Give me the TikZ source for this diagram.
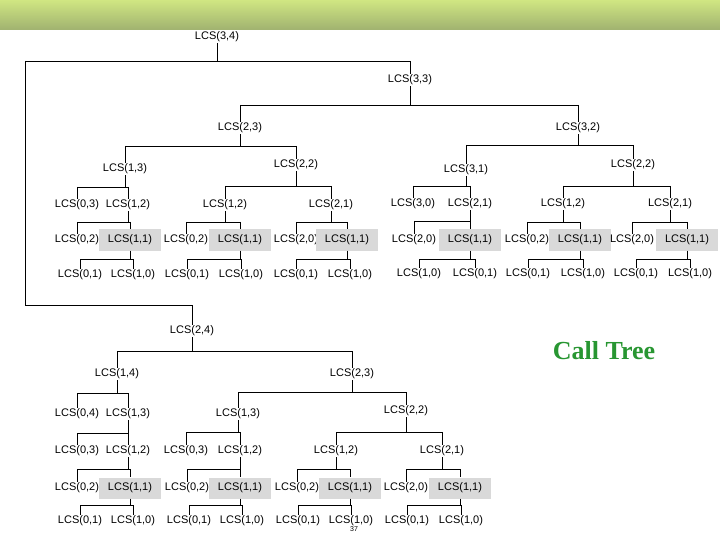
\documentclass[tikz,border=0pt]{standalone}
\usepackage{fontspec}
\setmainfont{Liberation Sans}
\begin{document}
\begin{tikzpicture}[x=1pt,y=-1pt,
  n/.style={inner sep=1pt,font=\fontsize{11}{12}\selectfont},
  h/.style={n,fill=black!15,minimum width=62pt,minimum height=21pt,inner sep=0pt},
  ln/.style={line width=0.9pt,black}]
\useasboundingbox (0,0) rectangle (720,540);
\shade[top color={rgb,255:red,208;green,230;blue,130},bottom color={rgb,255:red,160;green,178;blue,112}] (0,0) rectangle (720,30);
\newcommand\br[4]{\draw[ln] (#1.south) -- (#1.south |- 0,#4) (#2.north |- 0,#4) -- (#3.north |- 0,#4) (#2.north |- 0,#4) -- (#2.north) (#3.north |- 0,#4) -- (#3.north);}
\newcommand\lcs[4][n]{\node[#1] (#2) at (#3) {LCS(#4)};}
% top tree
\lcs{a}{217,37}{3,4}
\lcs{b}{410,80}{3,3}
\lcs{c}{240,128}{2,3}
\lcs{d}{578,128}{3,2}
\lcs{c1}{125,169}{1,3}
\lcs{c2}{296,165}{2,2}
\lcs{c11}{77,205}{0,3}
\lcs{c12}{128,205}{1,2}
\lcs{c121}{77,240}{0,2}
\lcs[h]{c122}{130,240}{1,1}
\lcs{c1221}{80,275}{0,1}
\lcs{c1222}{133,275}{1,0}
\lcs{c21}{225,205}{1,2}
\lcs{c22}{331,205}{2,1}
\lcs{c211}{186,240}{0,2}
\lcs[h]{c212}{240,240}{1,1}
\lcs{c2121}{187,275}{0,1}
\lcs{c2122}{241,275}{1,0}
\lcs{c221}{296,240}{2,0}
\lcs[h]{c222}{347,240}{1,1}
\lcs{c2221}{296,275}{0,1}
\lcs{c2222}{350,275}{1,0}
\lcs{d1}{466,170}{3,1}
\lcs{d2}{633,165}{2,2}
\lcs{d11}{413,204}{3,0}
\lcs{d12}{470,204}{2,1}
\lcs{d121}{414,240}{2,0}
\lcs[h]{d122}{470,240}{1,1}
\lcs{d1221}{419,274}{1,0}
\lcs{d1222}{475,274}{0,1}
\lcs{d21}{563,204}{1,2}
\lcs{d22}{670,204}{2,1}
\lcs{d211}{527,240}{0,2}
\lcs[h]{d212}{580,240}{1,1}
\lcs{d2121}{528,274}{0,1}
\lcs{d2122}{583,274}{1,0}
\lcs{d221}{632,240}{2,0}
\lcs[h]{d222}{687,240}{1,1}
\lcs{d2221}{636,274}{0,1}
\lcs{d2222}{690,274}{1,0}
% bottom tree
\lcs{e}{192,331}{2,4}
\lcs{e1}{117,374}{1,4}
\lcs{e2}{352,374}{2,3}
\lcs{e11}{77,414}{0,4}
\lcs{e12}{128,414}{1,3}
\lcs{e121}{77,451}{0,3}
\lcs{e122}{128,451}{1,2}
\lcs{e1221}{77,488}{0,2}
\lcs[h]{e1222}{130,488}{1,1}
\lcs{e12221}{80,521}{0,1}
\lcs{e12222}{133,521}{1,0}
\lcs{e21}{238,414}{1,3}
\lcs{e22}{406,411}{2,2}
\lcs{e211}{186,451}{0,3}
\lcs{e212}{240,451}{1,2}
\lcs{e2121}{187,488}{0,2}
\lcs[h]{e2122}{240,488}{1,1}
\lcs{e21221}{189,521}{0,1}
\lcs{e21222}{242,521}{1,0}
\lcs{e221}{336,451}{1,2}
\lcs{e222}{442,451}{2,1}
\lcs{e2211}{297,488}{0,2}
\lcs[h]{e2212}{350,488}{1,1}
\lcs{e22121}{298,521}{0,1}
\lcs{e22122}{351,521}{1,0}
\lcs{e2221}{406,488}{2,0}
\lcs[h]{e2222}{460,488}{1,1}
\lcs{e22221}{407,521}{0,1}
\lcs{e22222}{461,521}{1,0}
% connectors
\coordinate (L1) at (25,61);
\coordinate (L2) at (25,305);
\draw[ln] (a.south) -- (a.south |- L1);
\draw[ln] (L1) -- (b.north |- L1) -- (b.north);
\draw[ln] (L1) -- (L2) -- (e.north |- L2) -- (e.north);
\br{b}{c}{d}{105}
\br{c}{c1}{c2}{146}
\br{c1}{c11}{c12}{187}
\br{c12}{c121}{c122}{222}
\br{c122}{c1221}{c1222}{259}
\br{c2}{c21}{c22}{186}
\br{c21}{c211}{c212}{222}
\br{c212}{c2121}{c2122}{259}
\br{c22}{c221}{c222}{222}
\br{c222}{c2221}{c2222}{259}
\br{d}{d1}{d2}{145}
\br{d1}{d11}{d12}{186}
\br{d12}{d121}{d122}{221}
\br{d122}{d1221}{d1222}{259}
\br{d2}{d21}{d22}{186}
\br{d21}{d211}{d212}{222}
\br{d212}{d2121}{d2122}{259}
\br{d22}{d221}{d222}{222}
\br{d222}{d2221}{d2222}{259}
\br{e}{e1}{e2}{351}
\br{e1}{e11}{e12}{393}
\br{e12}{e121}{e122}{433}
\br{e122}{e1221}{e1222}{469}
\br{e1222}{e12221}{e12222}{505}
\br{e2}{e21}{e22}{392}
\br{e21}{e211}{e212}{432}
\br{e212}{e2121}{e2122}{469}
\br{e2122}{e21221}{e21222}{505}
\br{e22}{e221}{e222}{432}
\br{e221}{e2211}{e2212}{469}
\br{e2212}{e22121}{e22122}{505}
\br{e222}{e2221}{e2222}{469}
\br{e2222}{e22221}{e22222}{505}
\node[font=\fontspec{Liberation Serif}\bfseries\fontsize{26}{28}\selectfont,text={rgb,255:red,40;green,150;blue,50}] (title) at (604,351) {Call Tree};
\node[font=\fontsize{7}{8}\selectfont,inner sep=0pt] (pg) at (354,529) {37};
\end{tikzpicture}
\end{document}
